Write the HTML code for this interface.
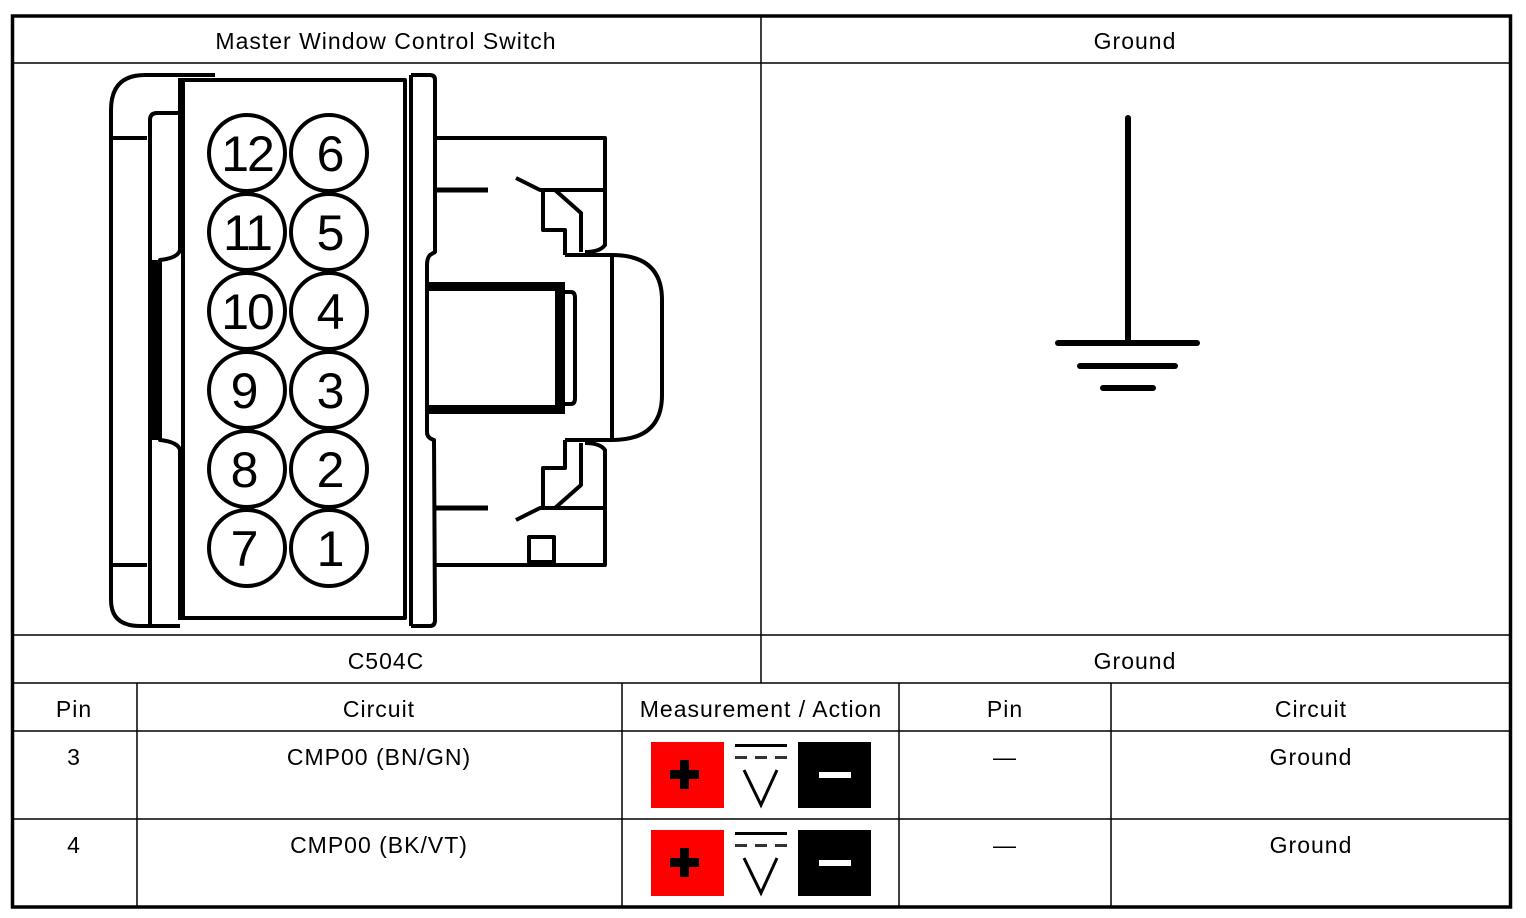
<!DOCTYPE html>
<html><head><meta charset="utf-8"><style>
html,body{margin:0;padding:0;background:#fff}
svg{display:block}
text{font-family:"Liberation Sans",sans-serif;font-size:23px;letter-spacing:1px;fill:#000}
</style></head><body>
<svg width="1526" height="918" viewBox="0 0 1526 918" xmlns="http://www.w3.org/2000/svg">
<rect x="0" y="0" width="1526" height="918" fill="#fff"/>
<g stroke="#000" stroke-width="1.5" fill="none">
<line x1="12" y1="63" x2="1511" y2="63"/>
<line x1="12" y1="635" x2="1511" y2="635"/>
<line x1="12" y1="683" x2="1511" y2="683"/>
<line x1="12" y1="731" x2="1511" y2="731"/>
<line x1="12" y1="819" x2="1511" y2="819"/>
<line x1="761" y1="15" x2="761" y2="683"/>
<line x1="137" y1="683" x2="137" y2="908"/>
<line x1="622" y1="683" x2="622" y2="908"/>
<line x1="899" y1="683" x2="899" y2="908"/>
<line x1="1111" y1="683" x2="1111" y2="908"/>
</g>
<rect x="12.5" y="16" width="1498" height="891" fill="none" stroke="#000" stroke-width="3.5"/>
<g text-anchor="middle">
<text x="386" y="49">Master Window Control Switch</text>
<text x="1135" y="49">Ground</text>
<text x="386" y="669">C504C</text>
<text x="1135" y="669">Ground</text>
<text x="74" y="717">Pin</text>
<text x="379" y="717">Circuit</text>
<text x="761" y="717">Measurement / Action</text>
<text x="1005" y="717">Pin</text>
<text x="1311" y="717">Circuit</text>
<text x="74" y="765">3</text>
<text x="379" y="765">CMP00 (BN/GN)</text>
<text x="1005" y="765">—</text>
<text x="1311" y="765">Ground</text>
<text x="74" y="853">4</text>
<text x="379" y="853">CMP00 (BK/VT)</text>
<text x="1005" y="853">—</text>
<text x="1311" y="853">Ground</text>
</g>
<g id="m1">
<rect x="651" y="742" width="73" height="66" fill="#f00"/>
<rect x="680" y="760" width="9" height="29" fill="#000"/>
<rect x="670" y="770" width="29" height="9" fill="#000"/>
<rect x="798" y="742" width="73" height="66" fill="#000"/>
<rect x="819" y="772" width="32" height="6" fill="#fff"/>
<rect x="735" y="744" width="52" height="3" fill="#000"/>
<g fill="#333"><rect x="735" y="756" width="12" height="3"/><rect x="755" y="756" width="12" height="3"/><rect x="775" y="756" width="12" height="3"/></g>
<polyline points="744,770 761,805 777,770" fill="none" stroke="#000" stroke-width="3"/>
</g>
<use href="#m1" y="88"/>
<g stroke="#000" stroke-width="6" stroke-linecap="round">
<line x1="1128" y1="118" x2="1128" y2="343"/>
<line x1="1058" y1="343" x2="1197" y2="343"/>
<line x1="1080" y1="366" x2="1175" y2="366"/>
<line x1="1103" y1="388" x2="1153" y2="388"/>
</g>
<g stroke="#000" stroke-width="4" fill="none" stroke-linejoin="round">
<path d="M215,75 L145,75 Q111,75 111,110 L111,600 Q111,626 140,626 L180,626"/>
<path d="M180,113 L157,113 Q150,113 150,120 L150,626"/>
<line x1="111" y1="138" x2="147" y2="138"/>
<line x1="111" y1="565" x2="147" y2="565"/>
<path d="M183,80 L405,80 L405,618 L183,618 Z"/>
<path d="M180,78 L180,250 Q178,258 160,260 L160,440 Q178,442 180,450 L180,620"/>
<path d="M411,75 L430,75 Q435,75 435,80 L435,252 L430,255 Q427,258 427,265 L427,432 Q427,438 434,440 L435,620 Q435,626 430,626 L411,626"/>
<path d="M411,75 L411,626"/>
<path d="M435,138 L605,138 L605,245 Q600,252 585,252"/>
<line x1="436" y1="190" x2="488" y2="190" stroke-width="5"/>
<path d="M516,178 L540,190 L605,190"/>
<path d="M543,190 L543,230 L565,230 L565,255"/>
<path d="M555,190 L581,213 L581,252"/>
<path d="M565,255 L612,255 Q662,255 662,300 L662,395 Q662,440 612,440 L565,440"/>
<line x1="612" y1="255" x2="612" y2="440"/>
<path d="M565,292 L571,292 Q575,292 575,298 L575,398 Q575,404 571,404 L565,404"/>
<path d="M435,565 L605,565 L605,450 Q600,443 585,443"/>
<line x1="436" y1="508" x2="488" y2="508" stroke-width="5"/>
<path d="M516,520 L540,508 L605,508"/>
<path d="M543,508 L543,468 L565,468 L565,440"/>
<path d="M555,508 L581,485 L581,443"/>
<path d="M529,537 L529,562 L554,562 L554,537 Z"/>
</g>
<g fill="#000">
<rect x="427" y="282" width="138" height="9"/>
<rect x="427" y="405" width="138" height="9"/>
<rect x="555" y="282" width="10" height="132"/>
<rect x="152" y="260" width="7" height="180"/>
</g>
<g stroke="#000" stroke-width="4" fill="#fff">
<circle cx="247" cy="153" r="38"/><circle cx="329" cy="153" r="38"/>
<circle cx="247" cy="232" r="38"/><circle cx="329" cy="232" r="38"/>
<circle cx="247" cy="311" r="38"/><circle cx="329" cy="311" r="38"/>
<circle cx="247" cy="390" r="38"/><circle cx="329" cy="390" r="38"/>
<circle cx="247" cy="469" r="38"/><circle cx="329" cy="469" r="38"/>
<circle cx="247" cy="548" r="38"/><circle cx="329" cy="548" r="38"/>
</g>
<g text-anchor="middle">
<text x="247" y="171" style="font-size:50px;letter-spacing:-2px">12</text><text x="331" y="171" style="font-size:50px">6</text>
<text x="247" y="250" style="font-size:50px;letter-spacing:-2px">11</text><text x="331" y="250" style="font-size:50px">5</text>
<text x="247" y="329" style="font-size:50px;letter-spacing:-2px">10</text><text x="331" y="329" style="font-size:50px">4</text>
<text x="245" y="408" style="font-size:50px">9</text><text x="331" y="408" style="font-size:50px">3</text>
<text x="245" y="487" style="font-size:50px">8</text><text x="331" y="487" style="font-size:50px">2</text>
<text x="245" y="566" style="font-size:50px">7</text><text x="331" y="566" style="font-size:50px">1</text>
</g>
</svg>
</body></html>
